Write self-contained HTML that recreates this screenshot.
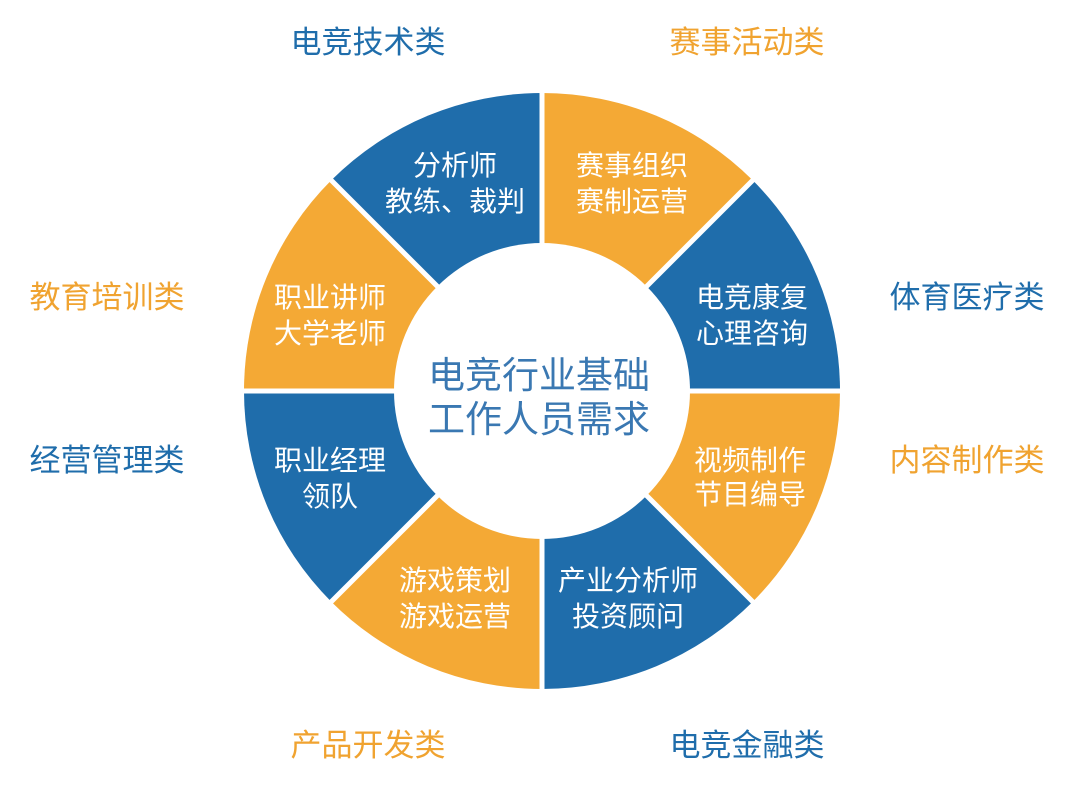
<!DOCTYPE html>
<html><head><meta charset="utf-8"><style>
html,body{margin:0;padding:0;background:#fff;}
svg{display:block;}
text{font-family:"Liberation Sans","Noto Sans CJK SC",sans-serif;}
</style></head><body>
<svg id="s" width="1067" height="791" viewBox="0 0 1067 791" xmlns="http://www.w3.org/2000/svg">
<g id="segs"></g>
<circle cx="542" cy="391" r="148" fill="#fff"/>
<g id="lines" stroke="#fff" stroke-width="5"></g>
<g font-size="31" text-anchor="middle">
<text x="368" y="53" fill="#1f6dab">电竞技术类</text>
<text x="747" y="53" fill="#f0a330">赛事活动类</text>
<text x="967" y="308" fill="#1f6dab">体育医疗类</text>
<text x="967" y="471" fill="#f0a330">内容制作类</text>
<text x="747" y="756" fill="#1f6dab">电竞金融类</text>
<text x="368" y="756" fill="#f0a330">产品开发类</text>
<text x="107" y="471" fill="#1f6dab">经营管理类</text>
<text x="107" y="308" fill="#f0a330">教育培训类</text>
</g>
<g font-size="37" text-anchor="middle" fill="#3a78b2">
<text x="539" y="388">电竞行业基础</text>
<text x="539" y="432">工作人员需求</text>
</g>
<g font-size="28" text-anchor="middle" fill="#fff">
<text x="455" y="175">分析师</text><text x="455" y="211">教练、裁判</text>
<text x="632" y="175">赛事组织</text><text x="632" y="211">赛制运营</text>
<text x="752" y="307">电竞康复</text><text x="752" y="343">心理咨询</text>
<text x="750" y="470">视频制作</text><text x="750" y="504">节目编导</text>
<text x="628" y="590">产业分析师</text><text x="628" y="626">投资顾问</text>
<text x="455" y="590">游戏策划</text><text x="455" y="626">游戏运营</text>
<text x="330" y="470">职业经理</text><text x="330" y="506">领队</text>
<text x="330" y="307">职业讲师</text><text x="330" y="343">大学老师</text>
</g>
</svg>
<script>
var cx=542,cy=391,R=298,ns="http://www.w3.org/2000/svg";
var cols=["#f4a935","#1f6dab"];
var g=document.getElementById("segs"),l=document.getElementById("lines");
for(var i=0;i<8;i++){
 var a0=(i*45-90)*Math.PI/180,a1=((i+1)*45-90)*Math.PI/180;
 var p=document.createElementNS(ns,"path");
 p.setAttribute("d","M"+cx+","+cy+"L"+(cx+R*Math.cos(a0))+","+(cy+R*Math.sin(a0))+"A"+R+","+R+" 0 0 1 "+(cx+R*Math.cos(a1))+","+(cy+R*Math.sin(a1))+"Z");
 p.setAttribute("fill",cols[i%2]);g.appendChild(p);
 var ln=document.createElementNS(ns,"line");
 ln.setAttribute("x1",cx);ln.setAttribute("y1",cy);
 ln.setAttribute("x2",cx+(R+5)*Math.cos(a0));ln.setAttribute("y2",cy+(R+5)*Math.sin(a0));
 l.appendChild(ln);
}
</script>
</body></html>
